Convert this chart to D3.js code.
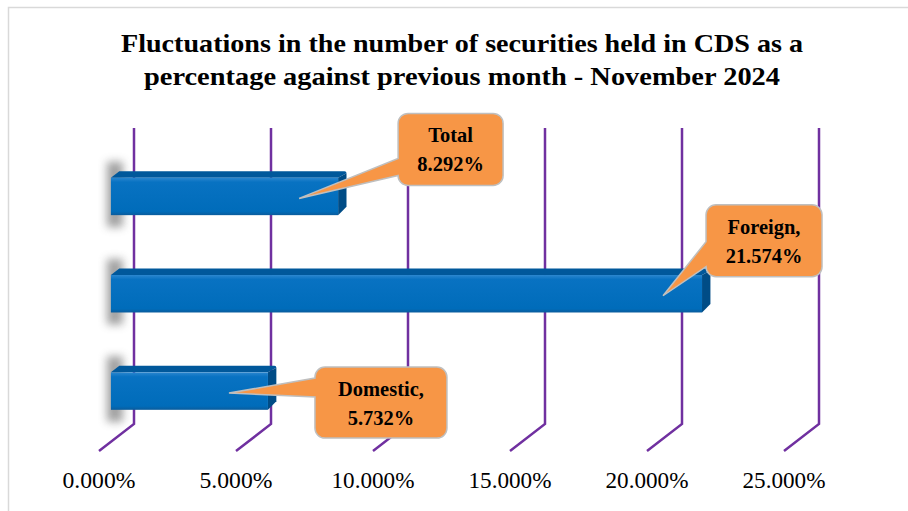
<!DOCTYPE html>
<html>
<head>
<meta charset="utf-8">
<script src="https://cdn.jsdelivr.net/npm/d3@7"></script>
<style>
  body { margin: 0; background: #fff; }
  text { font-family: "Liberation Serif", "DejaVu Serif", serif; }
</style>
</head>
<body>
<div id="chart"></div>
<script>
// data
const categories = ["Total", "Foreign", "Domestic"];
const values = [8.292, 21.574, 5.732];
const labelNames = ["Total", "Foreign,", "Domestic,"];
const tickValues = [0, 5, 10, 15, 20, 25];
const titleLines = [
    "Fluctuations in the number of securities held in CDS as a",
    "percentage against previous month - November 2024"
];

// callout boxes, relative to the bar end / band center
const calloutLayout = [
    { dx: 60, dy: -83, w: 105, h: 72, b1: 45, b2: 64 },
    { dx: 4, dy: -89, w: 116, h: 72, b1: 37, b2: 63 },
    { dx: 47, dy: -24, w: 132, h: 71, b1: 11, b2: 30 }
];

const width = 908, height = 511;
const DX = 35, DY = 27;           // depth offset of the floor / back wall
const wallTop = 128, wallBottom = 424;
const T0 = 0.34, T1 = 0.58;       // bar front / back depth

const svg = d3.select("#chart").append("svg")
    .attr("width", width)
    .attr("height", height);

const defs = svg.append("defs");
defs.append("filter").attr("id", "blur")
    .attr("x", "-50%").attr("y", "-50%").attr("width", "200%").attr("height", "200%")
    .append("feGaussianBlur").attr("stdDeviation", 4.5);

const grad = defs.append("linearGradient").attr("id", "front")
    .attr("x1", 0).attr("y1", 0).attr("x2", 0).attr("y2", 1);
grad.append("stop").attr("offset", "0%").attr("stop-color", "#2a86cf");
grad.append("stop").attr("offset", "12%").attr("stop-color", "#0872c2");
grad.append("stop").attr("offset", "90%").attr("stop-color", "#006cba");
grad.append("stop").attr("offset", "100%").attr("stop-color", "#0a5c9c");

// outer border
svg.append("rect")
    .attr("x", 8.5).attr("y", 7.5)
    .attr("width", 920).attr("height", 520)
    .attr("fill", "none")
    .attr("stroke", "#d9d9d9")
    .attr("stroke-width", 1.5);

// shrink / stretch a text so it spans a target width
function fitWidth(sel, target) {
    sel.each(function(d, i) {
        const w = typeof target === "function" ? target(d, i, this) : target;
        d3.select(this).attr("textLength", w).attr("lengthAdjust", "spacingAndGlyphs");
    });
}

// title
const titleWidths = [682, 636];
svg.append("g").selectAll("text")
    .data(titleLines)
    .enter()
    .append("text")
    .attr("x", 462)
    .attr("y", (d, i) => 52 + i * 33)
    .attr("text-anchor", "middle")
    .attr("font-size", 25)
    .attr("font-weight", "bold")
    .attr("fill", "#000")
    .text(d => d)
    .call(fitWidth, (d, i) => titleWidths[i]);

const x = d3.scaleLinear().domain([0, 25]).range([99, 784]);
const y = d3.scaleBand().domain(categories).range([147.5, 440])
    .paddingInner(0.615).paddingOuter(0.31);

function px(v, t) { return x(v) + DX * t; }

// gridlines: back wall vertical + floor diagonal
svg.append("g").selectAll("path")
    .data(tickValues)
    .enter()
    .append("path")
    .attr("d", d => `M${px(d, 1)},${wallTop} V${wallBottom} L${px(d, 0)},${wallBottom + DY}`)
    .attr("fill", "none")
    .attr("stroke", "#7030a0")
    .attr("stroke-width", 2.5);

// axis labels
const fmt = d3.format(".3f");
svg.append("g").selectAll("text")
    .data(tickValues)
    .enter()
    .append("text")
    .attr("x", d => x(d))
    .attr("y", 488)
    .attr("text-anchor", "middle")
    .attr("font-size", 23)
    .attr("fill", "#000")
    .text(d => fmt(d) + "%")
    .call(fitWidth, d => d < 10 ? 73 : 83);

// bars
const rows = categories.map((c, i) => ({ cat: c, value: values[i], name: labelNames[i], lay: calloutLayout[i] }));
const ddx = DX * (T1 - T0), ddy = DY * (T1 - T0);

const bars = svg.append("g").selectAll("g")
    .data(rows)
    .enter()
    .append("g");

// soft shadow at the left end
bars.append("rect")
    .attr("x", px(0, T0) - 4)
    .attr("y", d => y(d.cat) - 16)
    .attr("width", 16)
    .attr("height", y.bandwidth() + 28)
    .attr("fill", "#555")
    .attr("opacity", 0.55)
    .attr("filter", "url(#blur)");

// top face
bars.append("path")
    .attr("d", d => {
        const x0 = px(0, T0), x1 = px(d.value, T0), y0 = y(d.cat);
        return `M${x0},${y0} L${x0 + ddx},${y0 - ddy} L${x1 + ddx - 2},${y0 - ddy} Q${x1 + ddx},${y0 - ddy} ${x1 + ddx},${y0 - ddy + 2} L${x1},${y0} Z`;
    })
    .attr("fill", "#00589b");

// right face
bars.append("path")
    .attr("d", d => {
        const x1 = px(d.value, T0), y0 = y(d.cat), y1 = y0 + y.bandwidth();
        return `M${x1},${y0} L${x1 + ddx},${y0 - ddy + 2} L${x1 + ddx},${y1 - ddy - 2} L${x1},${y1} Z`;
    })
    .attr("fill", "#004c86");

// front face
bars.append("rect")
    .attr("x", px(0, T0))
    .attr("y", d => y(d.cat))
    .attr("width", d => px(d.value, T0) - px(0, T0))
    .attr("height", y.bandwidth())
    .attr("fill", "url(#front)");

// callouts
function calloutPath(bx, by, w, h, b1, b2, tx, ty) {
    const r = 10;
    b2 = Math.min(b2, h - r);
    b1 = Math.max(b1, r);
    return `M${bx + r},${by} H${bx + w - r} A${r},${r} 0 0 1 ${bx + w},${by + r}` +
        ` V${by + h - r} A${r},${r} 0 0 1 ${bx + w - r},${by + h}` +
        ` H${bx + r} A${r},${r} 0 0 1 ${bx},${by + h - r}` +
        ` V${by + b2} L${tx},${ty} L${bx},${by + b1}` +
        ` V${by + r} A${r},${r} 0 0 1 ${bx + r},${by} Z`;
}

const callouts = svg.append("g").selectAll("g")
    .data(rows)
    .enter()
    .append("g");

callouts.append("path")
    .attr("d", d => {
        const xe = px(d.value, T0), yc = y(d.cat) + y.bandwidth() / 2;
        const bx = xe + d.lay.dx, by = yc + d.lay.dy;
        return calloutPath(bx, by, d.lay.w, d.lay.h, d.lay.b1, d.lay.b2, xe - 39, yc + 2);
    })
    .attr("fill", "#f79646")
    .attr("stroke", "#bfbfbf")
    .attr("stroke-width", 1.5);

// labels are a little compressed to match the narrower original face
const squeeze = 0.93;

callouts.append("text")
    .attr("x", d => px(d.value, T0) + d.lay.dx + d.lay.w / 2)
    .attr("y", d => y(d.cat) + y.bandwidth() / 2 + d.lay.dy + 29)
    .attr("text-anchor", "middle")
    .attr("font-size", 22)
    .attr("font-weight", "bold")
    .attr("fill", "#000")
    .text(d => d.name)
    .call(fitWidth, (d, i, node) => node.getComputedTextLength() * squeeze);

callouts.append("text")
    .attr("x", d => px(d.value, T0) + d.lay.dx + d.lay.w / 2)
    .attr("y", d => y(d.cat) + y.bandwidth() / 2 + d.lay.dy + 58)
    .attr("text-anchor", "middle")
    .attr("font-size", 22)
    .attr("font-weight", "bold")
    .attr("fill", "#000")
    .text(d => fmt(d.value) + "%")
    .call(fitWidth, (d, i, node) => node.getComputedTextLength() * squeeze);
</script>
</body>
</html>
